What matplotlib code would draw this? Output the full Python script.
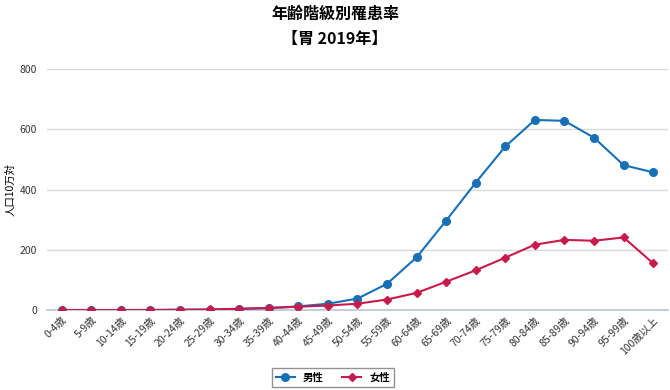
import matplotlib
matplotlib.use("Agg")
import matplotlib.pyplot as plt

plt.rcParams['font.family'] = ['Noto Sans CJK JP', 'DejaVu Sans']

# 年齢階級
ages = ['0-4歳', '5-9歳', '10-14歳', '15-19歳', '20-24歳', '25-29歳', '30-34歳',
        '35-39歳', '40-44歳', '45-49歳', '50-54歳', '55-59歳', '60-64歳', '65-69歳',
        '70-74歳', '75-79歳', '80-84歳', '85-89歳', '90-94歳', '95-99歳', '100歳以上']

male = [0.2, 0.1, 0.1, 0.3, 0.8, 1.5, 3.5, 6.5, 12, 21, 38, 87, 175, 297,
        423, 543, 631, 628, 572, 481, 457]
female = [0.2, 0.1, 0.1, 0.3, 1.0, 2.0, 4.5, 7, 11, 15, 21, 35, 57, 94,
          132, 174, 217, 233, 230, 241, 155]

fig = plt.figure(figsize=(6.7, 3.9), dpi=100)
ax = fig.add_axes([0.070, 0.205, 0.927, 0.618])

x = range(len(ages))
ax.plot(x, male, color='#1770b5', lw=1.5, marker='o', ms=5.5, label='男性', zorder=3)
ax.plot(x, female, color='#c81a4b', lw=1.5, marker='D', ms=4, label='女性', zorder=4)

ax.set_ylim(0, 800)
ax.set_xlim(-0.5, len(ages) - 0.5)
ax.set_yticks([0, 200, 400, 600, 800])
ax.grid(axis='y', color='#d9d9d9', lw=1)
ax.set_axisbelow(True)
for s in ['top', 'right', 'left']:
    ax.spines[s].set_visible(False)
ax.spines['bottom'].set_color('#b8c4d6')
ax.spines['bottom'].set_linewidth(1.2)
ax.tick_params(length=0, labelsize=7.5, colors='#333333')
ax.tick_params(axis='y', pad=7)
ax.set_xticks(list(x))
ax.set_xticklabels(ages, rotation=45, ha='right', rotation_mode='anchor', fontsize=7.5)
ax.set_ylabel('人口10万対', fontsize=7.5, labelpad=3)

fig.text(0.5, 0.965, '年齢階級別罹患率', ha='center', va='center',
         fontsize=11.5, fontweight='bold')
fig.text(0.5, 0.9, '【胃 2019年】', ha='center', va='center',
         fontsize=11.5, fontweight='bold')

leg = fig.legend(loc='center', bbox_to_anchor=(0.497, 0.032), ncol=2, fontsize=7.5,
                 frameon=True, fancybox=False, edgecolor='#777777',
                 handlelength=1.8, columnspacing=1.8, borderpad=0.4)
for t in leg.get_texts():
    t.set_fontweight('bold')

fig.savefig('out.png', dpi=100)
